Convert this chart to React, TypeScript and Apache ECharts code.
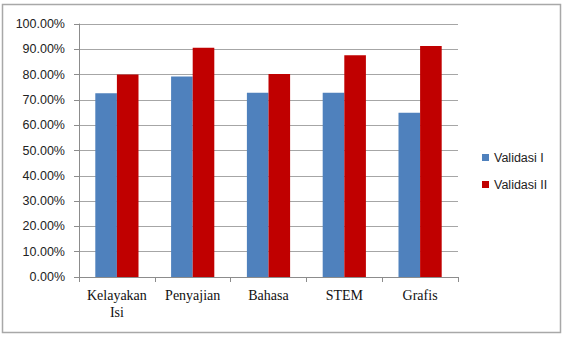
import React, { useEffect, useRef } from "react";
import * as echarts from "echarts";

const categories = ["Kelayakan\nIsi", "Penyajian", "Bahasa", "STEM", "Grafis"];
const validasi1 = [72.6, 79.2, 72.8, 72.8, 64.9];
const validasi2 = [80.0, 90.6, 80.2, 87.6, 91.3];
const seriesNames = ["Validasi I", "Validasi II"];

export default function App() {
  const ref = useRef<HTMLDivElement>(null);
  useEffect(() => {
    if (!ref.current) return;
    const chart = echarts.init(ref.current, null, { renderer: "svg" });
    chart.setOption({
      animation: false,
      backgroundColor: "#ffffff",
      graphic: [
        {
          type: "rect",
          shape: { x: 2.5, y: 4.5, width: 558, height: 328 },
          style: { fill: "none", stroke: "#a8a8a8", lineWidth: 1.5 },
          z: 100,
        },
      ],
      grid: { left: 79, right: 107, top: 24, bottom: 60, containLabel: false },
      legend: {
        orient: "vertical",
        left: 477,
        top: 146,
        itemWidth: 7,
        itemHeight: 7,
        itemGap: 14,
        icon: "rect",
        data: seriesNames,
        textStyle: { fontFamily: "Liberation Sans", fontSize: 12.5, color: "#222" },
      },
      xAxis: {
        type: "category",
        data: categories,
        axisLine: { lineStyle: { color: "#8c8c8c", width: 1 } },
        axisTick: { show: true, alignWithLabel: false, length: 5, lineStyle: { color: "#8c8c8c" } },
        axisLabel: {
          fontFamily: "Liberation Serif",
          fontSize: 14,
          lineHeight: 17,
          color: "#111",
          margin: 10,
          interval: 0,
        },
      },
      yAxis: {
        type: "value",
        min: 0,
        max: 100,
        interval: 10,
        axisLine: { show: true, lineStyle: { color: "#8c8c8c", width: 1 } },
        axisTick: { show: true, length: 5, lineStyle: { color: "#8c8c8c" } },
        splitLine: { lineStyle: { color: "#a6a6a6", width: 1 } },
        axisLabel: {
          fontFamily: "Liberation Sans",
          fontSize: 12.5,
          color: "#222",
          margin: 14,
          formatter: (v: number) => v.toFixed(2) + "%",
        },
      },
      series: [
        {
          name: seriesNames[0],
          type: "bar",
          data: validasi1,
          itemStyle: { color: "#4F81BD" },
          barGap: "0%",
          barCategoryGap: "43%",
        },
        {
          name: seriesNames[1],
          type: "bar",
          data: validasi2,
          itemStyle: { color: "#C00000" },
          barGap: "0%",
          barCategoryGap: "43%",
        },
      ],
    });
    return () => chart.dispose();
  }, []);
  return (
    <div
      ref={ref}
      style={{ position: "absolute", left: 0, top: 0, width: 565, height: 337 }}
    />
  );
}
